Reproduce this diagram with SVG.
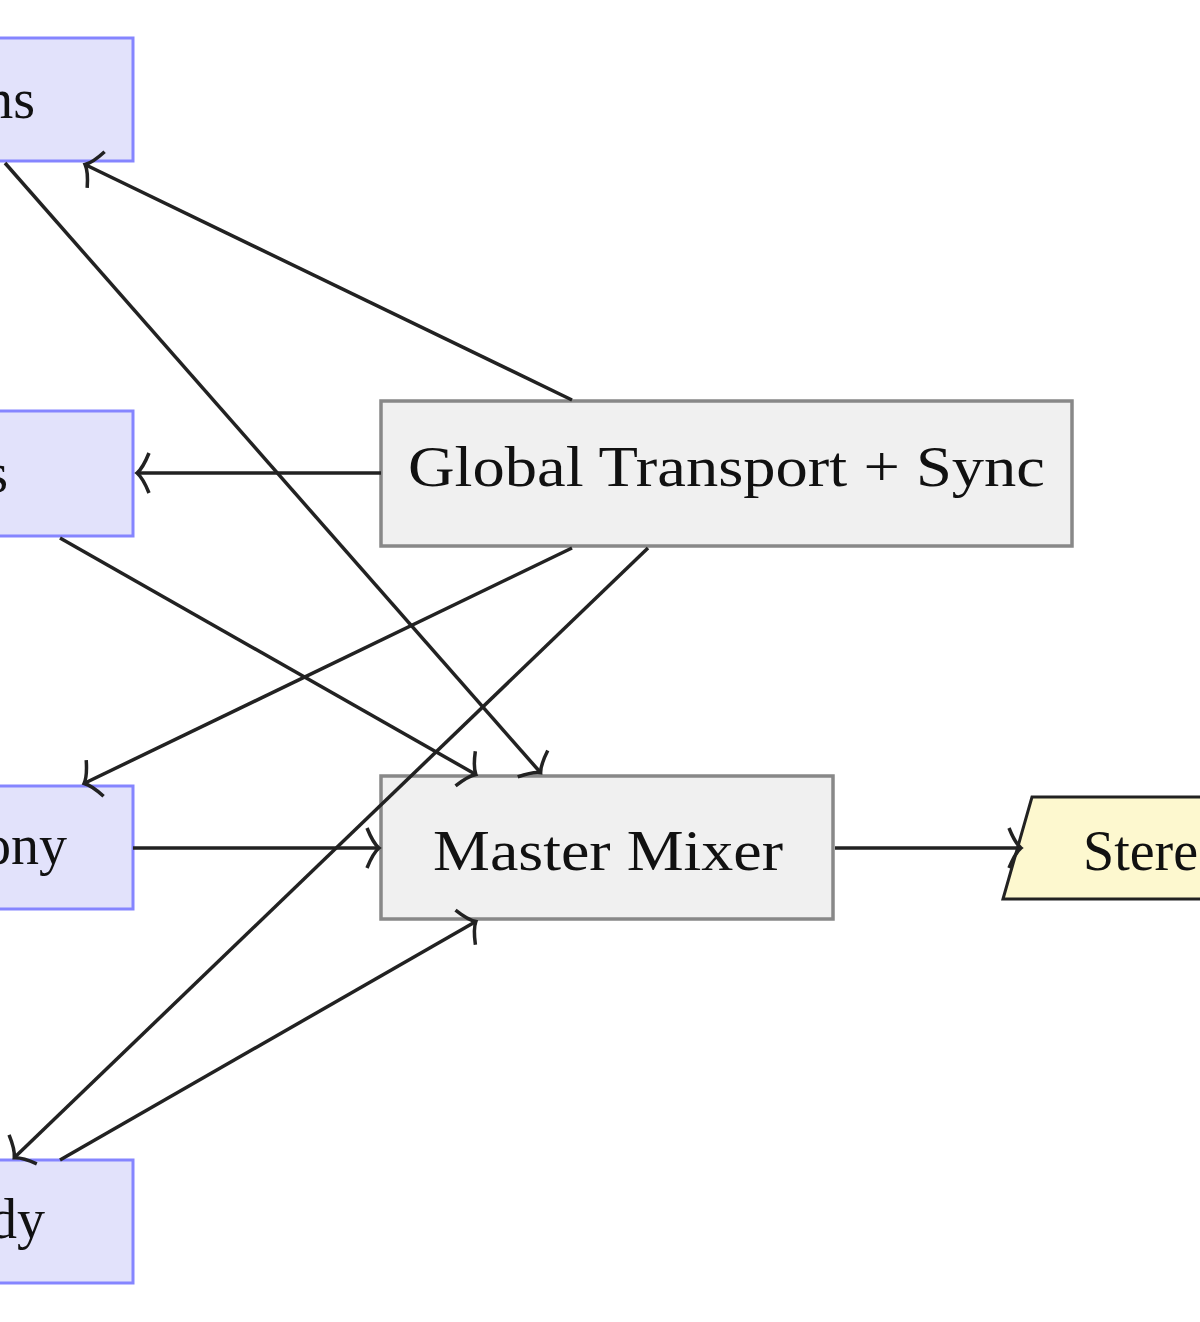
<svg xmlns="http://www.w3.org/2000/svg" width="1200" height="1322" viewBox="0 0 1200 1322">
<style>
.src{fill:#e2e2fb;stroke:#8585ff;stroke-width:3}
.proc{fill:#f0f0f0;stroke:#888;stroke-width:3.5}
.out{fill:#fdf8cf;stroke:#222;stroke-width:3}
.t{font-family:"Liberation Serif",serif;font-size:56px;fill:#111}
.c{stroke:#222;stroke-width:3.5;fill:none;marker-end:url(#a)}
</style>
<defs>
<marker id="a" markerUnits="userSpaceOnUse" markerWidth="50" markerHeight="50" refX="0" refY="0" viewBox="-25 -25 50 50" orient="auto">
<path d="M -11 -20 Q -5 -5 1 0 Q -5 5 -11 20" fill="none" stroke="#222" stroke-width="3.5"/>
</marker>
</defs>
<rect width="1200" height="1322" fill="#fff"/>
<g id="n1"><rect class="src" x="-20" y="38" width="153" height="123"/><text class="t" x="35" y="118" text-anchor="end">Drums</text></g>
<g id="n2"><rect class="src" x="-20" y="411" width="153" height="125"/><text class="t" x="8" y="492" text-anchor="end">Bass</text></g>
<g id="n3"><rect class="src" x="-20" y="786" width="153" height="123"/><text class="t" x="67" y="864" text-anchor="end">Harmony</text></g>
<g id="n4"><rect class="src" x="-20" y="1160" width="153" height="123"/><text class="t" x="45" y="1238" text-anchor="end">Melody</text></g>
<g id="global"><rect class="proc" x="381" y="401" width="691" height="145"/><text class="t" x="408" y="486" textLength="637" lengthAdjust="spacingAndGlyphs">Global Transport + Sync</text></g>
<g id="mixer"><rect class="proc" x="381" y="776" width="452" height="143"/><text class="t" x="433" y="870" textLength="350" lengthAdjust="spacingAndGlyphs">Master Mixer</text></g>
<g id="stereo"><polygon class="out" points="1003,899 1032,797 1230,797 1210,899"/><text class="t" x="1083" y="870">Stereo Out</text></g>
<g id="connectors">
<line class="c" x1="572" y1="400" x2="86" y2="165"/>
<line class="c" x1="5" y1="163" x2="540" y2="772"/>
<line class="c" x1="381" y1="473" x2="138" y2="473"/>
<line class="c" x1="60" y1="538" x2="475" y2="774"/>
<line class="c" x1="572" y1="548" x2="85" y2="783"/>
<line class="c" x1="648" y1="548" x2="15" y2="1157"/>
<line class="c" x1="133" y1="848" x2="378" y2="848"/>
<line class="c" x1="60" y1="1160" x2="475" y2="922"/>
<line class="c" x1="835" y1="848" x2="1020" y2="848"/>
</g>
</svg>
